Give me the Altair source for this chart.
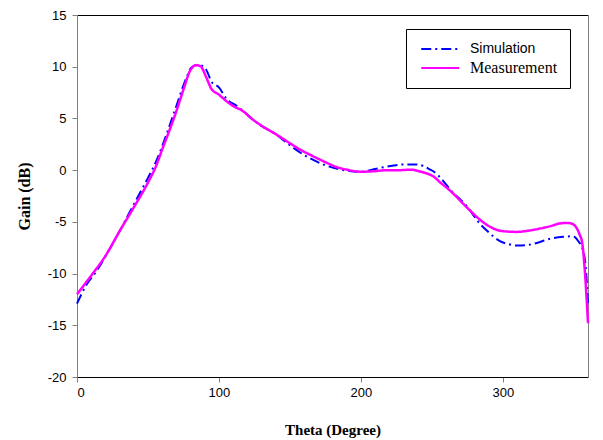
import altair as alt
import pandas as pd

series_names = ["Simulation", "Measurement"]
series_colors = ["#0000FF", "#FF00FF"]

sim_theta = [0, 7, 13.6, 20.6, 30, 41.8, 50, 55.8, 62.9, 70, 77, 80.5, 85, 88, 91, 95,
             100, 105, 112.7, 117.3, 126.8, 140.8, 150, 159.6, 173.7, 190, 200, 206.5,
             213.6, 223, 230, 239.4, 244, 248.8, 251, 258.2, 262.9, 274.6, 284, 290,
             298, 304, 310, 316, 321.6, 333.3, 342.7, 348.6, 351, 353.2, 356.3, 358.5, 360]
sim_gain = [-12.9, -11.0, -9.8, -8.2, -5.9, -2.85, -0.75, 0.86, 3.4, 6.2, 8.9, 9.9, 10.2, 10.1, 9.7, 8.5,
            8.0, 6.95, 6.2, 5.7, 4.57, 3.4, 2.4, 1.5, 0.54, -0.05, -0.17, 0.0,
            0.22, 0.44, 0.55, 0.54, 0.4, 0.05, -0.11, -1.08, -1.88, -3.49, -5.2, -6.0,
            -6.87, -7.15, -7.29, -7.25, -7.13, -6.64, -6.45, -6.39, -6.5, -6.87, -7.68, -9.5, -13.0]

meas_theta = [0, 10, 20, 30, 40, 50, 56, 60, 65, 70, 75, 80, 84, 87, 91, 94.5,
              100, 105, 110, 117, 122, 130, 141, 150, 157, 164, 173, 183, 190, 200,
              210, 218, 228, 235, 241, 246, 251, 256, 263, 275, 284, 290, 300, 310,
              318, 326, 334, 340, 345, 348, 352, 354, 356, 358, 360]
meas_gain = [-12.0, -10.2, -8.3, -5.9, -3.6, -1.2, 0.5, 2.0, 3.8, 5.7, 7.8, 9.7, 10.15, 10.05, 9.0, 7.9,
             7.3, 6.7, 6.2, 5.7, 5.1, 4.3, 3.4, 2.6, 2.0, 1.5, 0.9, 0.3, 0.05, -0.15,
             -0.1, 0.0, 0.0, 0.05, -0.1, -0.3, -0.6, -1.2, -2.0, -3.65, -4.8, -5.4, -5.9, -5.97,
             -5.85, -5.65, -5.4, -5.16, -5.1, -5.15, -5.6, -6.2, -7.1, -10.2, -14.8]

x_ticks = [0, 100, 200, 300]
y_ticks = [-20, -15, -10, -5, 0, 5, 10, 15]

df = pd.concat([
    pd.DataFrame({"theta": sim_theta, "gain": sim_gain, "series": "Simulation"}),
    pd.DataFrame({"theta": meas_theta, "gain": meas_gain, "series": "Measurement"}),
], ignore_index=True)

legend = alt.Legend(
    title=None, orient="none", legendX=329, legendY=14,
    padding=12, strokeColor="black", fillColor="white",
    symbolType="M-1,0H7", symbolSize=90, symbolStrokeWidth=2,
    labelOffset=36, rowPadding=4, labelColor="black", labelLimit=0,
    labelFont=alt.ExprRef("datum.label == 'Simulation' ? 'Liberation Sans' : 'Liberation Serif'"),
    labelFontSize=alt.ExprRef("datum.label == 'Simulation' ? 14 : 16"),
)

color = alt.Color("series:N", scale=alt.Scale(domain=series_names, range=series_colors), legend=legend)
dash = alt.StrokeDash("series:N", scale=alt.Scale(domain=series_names, range=[[10, 4, 2, 4], [1, 0]]), legend=legend)

xscale = alt.Scale(domain=[0, 360], nice=False)
yscale = alt.Scale(domain=[-20, 15], nice=False)

x_bottom = alt.X("theta:Q", scale=xscale, axis=alt.Axis(
    orient="bottom", values=x_ticks, grid=False, title="Theta (Degree)",
    labelFont="Liberation Sans", labelFontSize=13, labelColor="black", labelPadding=4,
    labelExpr="datum.value + ''",
    domainColor="black", tickColor="#808080", tickSize=5,
    titleFont="Liberation Serif", titleFontWeight="bold", titleFontSize=15, titleColor="black",
    titlePadding=23))
y_left = alt.Y("gain:Q", scale=yscale, axis=alt.Axis(
    orient="left", values=y_ticks, grid=False, title="Gain (dB)",
    labelFont="Liberation Sans", labelFontSize=13, labelColor="black", labelPadding=6,
    labelExpr="datum.value + ''",
    domainColor="#808080", tickColor="#808080", tickSize=5,
    titleFont="Liberation Serif", titleFontWeight="bold", titleFontSize=16, titleColor="black",
    titlePadding=15))
x_top = alt.X("theta:Q", scale=xscale, axis=alt.Axis(
    orient="top", grid=False, labels=False, ticks=False, title=None, domainColor="black"))
y_right = alt.Y("gain:Q", scale=yscale, axis=alt.Axis(
    orient="right", grid=False, labels=False, ticks=False, title=None, domainColor="#808080"))

sim_layer = alt.Chart(df).transform_filter(alt.datum.series == "Simulation").mark_line(
    strokeWidth=2, interpolate="monotone").encode(x=x_bottom, y=y_left, color=color, strokeDash=dash)
meas_layer = alt.Chart(df).transform_filter(alt.datum.series == "Measurement").mark_line(
    strokeWidth=2.5, interpolate="monotone").encode(x=x_top, y=y_right, color=color, strokeDash=dash)

chart = alt.layer(sim_layer, meas_layer).resolve_axis(x="independent", y="independent").properties(
    width=511, height=362,
    autosize=alt.AutoSizeParams(type="none"),
    padding={"left": 77, "top": 15, "right": 15, "bottom": 63},
    background="white",
).configure_view(stroke=None)

chart.save("out.html", embed_options={"renderer": "svg", "actions": False})
